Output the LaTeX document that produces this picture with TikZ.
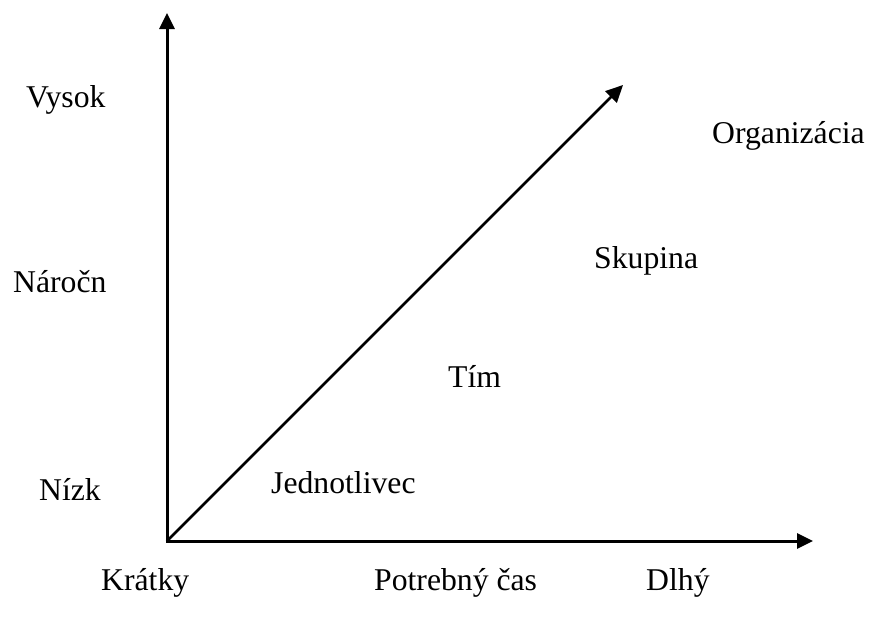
\documentclass[tikz,border=0pt]{standalone}
\usepackage{fontspec}
\setmainfont{Liberation Serif}
\usetikzlibrary{arrows.meta}
\begin{document}
\begin{tikzpicture}[x=1pt,y=-1pt,
  lbl/.style={anchor=base west,inner sep=0pt,font=\fontsize{31.7}{38}\selectfont},
  axis/.style={line width=3pt,-{Triangle[length=16pt,width=15pt]}},
  diag/.style={line width=2.6pt,-{Triangle[length=17pt,width=16pt]}}]
\useasboundingbox (0,0) rectangle (870,621);
\coordinate (O) at (167,541);
\coordinate (top) at (167,13);
\coordinate (right) at (813,541);
\coordinate (tip) at (623,85);
\draw[axis] ([yshift=-1.5pt]O) -- (top);
\draw[axis] ([xshift=-1.5pt]O) -- (right);
\draw[diag] (O) -- (tip);
\node[lbl] (vysok) at (26,107) {Vysok};
\node[lbl] (narocn) at (13,292) {Náročn};
\node[lbl] (nizk) at (39,500) {Nízk};
\node[lbl] (kratky) at (101,590) {Krátky};
\node[lbl] (cas) at (374,590) {Potrebný čas};
\node[lbl] (dlhy) at (646,590) {Dlhý};
\node[lbl] (org) at (712,143) {Organizácia};
\node[lbl] (skup) at (594,268) {Skupina};
\node[lbl] (tim) at (448,387) {Tím};
\node[lbl] (jedn) at (271,493) {Jednotlivec};
\end{tikzpicture}
\end{document}
